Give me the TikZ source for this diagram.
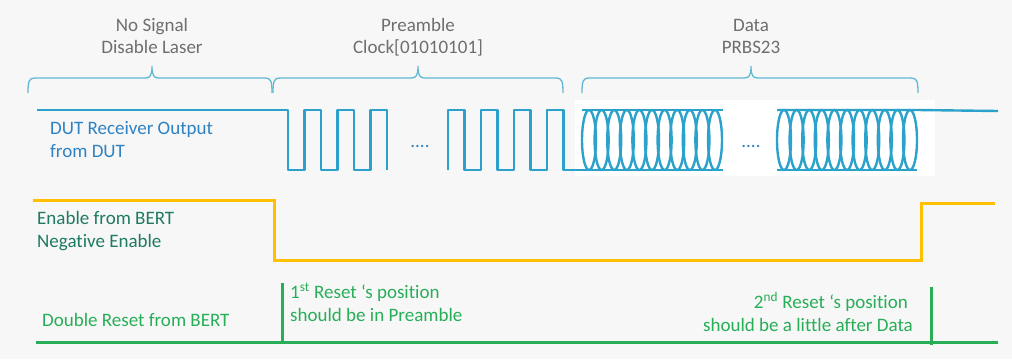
\documentclass[tikz,border=0pt]{standalone}
\usepackage{fontspec}
\setmainfont{Carlito}[Ligatures={NoCommon}]
\usepackage{xcolor}
\usepackage{tikz}
\pgfdeclarelayer{nodelayer}
\pgfdeclarelayer{edgelayer}
\pgfsetlayers{nodelayer,edgelayer,main}
\definecolor{bgcol}{HTML}{F7F7F7}
\definecolor{wavecol}{HTML}{2BA2CB}
\definecolor{bracecol}{HTML}{5FB9D5}
\definecolor{graytext}{HTML}{6E6E6E}
\definecolor{dutblue}{HTML}{2E82C2}
\definecolor{enyellow}{HTML}{FFC000}
\definecolor{entext}{HTML}{1F7A63}
\definecolor{rstgreen}{HTML}{27AE57}
\tikzset{
    none/.style = {inner sep=0pt},
    lbl/.style = {inner sep=0pt, font=\fontsize{19}{22}\selectfont},
    wave/.style = {draw=wavecol, line width=2.4pt, line join=round},
    bracket/.style = {draw=bracecol, line width=1.3pt},
    enable/.style = {draw=enyellow, line width=3pt},
    reset/.style = {draw=rstgreen, line width=3pt}
}

\begin{document}
\begin{tikzpicture}[x=1pt, y=-1pt]
    \useasboundingbox (0,0) rectangle (1012,359);
    \begin{pgfonlayer}{nodelayer}
        % Background and white patch behind the eyes
        \fill[bgcol] (0,0) rectangle (1012,359);
        \fill[white] (575,100) rectangle (935,176);
        % Section labels
        \node [lbl, text=graytext, anchor=base] (20) at (152, 31) {No Signal};
        \node [lbl, text=graytext, anchor=base] (21) at (152, 53) {Disable Laser};
        \node [lbl, text=graytext, anchor=base] (22) at (418, 31) {Preamble};
        \node [lbl, text=graytext, anchor=base] (23) at (418, 53) {Clock[01010101]};
        \node [lbl, text=graytext, anchor=base] (24) at (751, 31) {Data};
        \node [lbl, text=graytext, anchor=base] (25) at (751, 53) {PRBS23};
        % Signal names
        \node [lbl, text=dutblue, anchor=base west] (26) at (50, 134) {DUT Receiver Output};
        \node [lbl, text=dutblue, anchor=base west] (27) at (50, 157) {from DUT};
        \node [lbl, text=dutblue, anchor=base] (28) at (420, 147) {....};
        \node [lbl, text=dutblue, anchor=base] (29) at (751, 147) {....};
        \node [lbl, text=entext, anchor=base west] (30) at (37, 224) {Enable from BERT};
        \node [lbl, text=entext, anchor=base west] (31) at (37, 247) {Negative Enable};
        \node [lbl, text=rstgreen, anchor=base west] (32) at (42, 326) {Double Reset from BERT};
        \node [lbl, text=rstgreen, anchor=base west] (33) at (290, 298) {1\textsuperscript{st} Reset ‘s position};
        \node [lbl, text=rstgreen, anchor=base west] (34) at (290, 321) {should be in Preamble};
        \node [lbl, text=rstgreen, anchor=base east] (35) at (908, 308) {2\textsuperscript{nd} Reset ‘s position};
        \node [lbl, text=rstgreen, anchor=base east] (36) at (913, 331) {should be a little after Data};
        % Waveform corners
        \node [style=none] (0) at (37, 110) {};
        \node [style=none] (1) at (288, 110) {};
        \node [style=none] (2) at (448, 170) {};
        \node [style=none] (3) at (723, 170) {};
        \node [style=none] (4) at (582, 110) {};
        \node [style=none] (5) at (723, 110) {};
        \node [style=none] (6) at (777, 170) {};
        \node [style=none] (7) at (917, 170) {};
        \node [style=none] (8) at (777, 110) {};
        \node [style=none] (9) at (917, 110) {};
        \node [style=none] (10) at (998, 111) {};
        \node [style=none] (11) at (33, 200) {};
        \node [style=none] (12) at (274, 200) {};
        \node [style=none] (13) at (274, 260) {};
        \node [style=none] (14) at (921, 260) {};
        \node [style=none] (15) at (921, 203) {};
        \node [style=none] (16) at (995, 203) {};
        \node [style=none] (17) at (36, 342) {};
        \node [style=none] (18) at (998, 342) {};
        \node [style=none] (37) at (282, 283) {};
        \node [style=none] (38) at (282, 343) {};
        \node [style=none] (39) at (931, 287) {};
        \node [style=none] (40) at (931, 345) {};
    \end{pgfonlayer}
    \begin{pgfonlayer}{edgelayer}
        % Braces over the three sections
        \foreach \a/\m/\b in {28/152/272, 273/418/563, 582/751/918}
            \draw[bracket] (\a,93) .. controls (\a,81) and (\a+1,78) .. (\a+7,78) -- (\m-7,78)
                .. controls (\m-2,78) and (\m,76) .. (\m,66)
                .. controls (\m,76) and (\m+2,78) .. (\m+7,78) -- (\b-7,78)
                .. controls (\b-1,78) and (\b,81) .. (\b,93);
        % No signal, then first clock burst
        \draw[wave] (0.center) to (1.center) -- (288,170)
            \foreach \x in {304.5,337.5,370.5} { -- (\x,170) -- (\x,110) -- (\x+16.5,110) -- (\x+16.5,170) };
        % Second clock burst running into the data
        \draw[wave] (2.center) -- (448,110) -- (464.5,110) -- (464.5,170)
            \foreach \x in {481,514,547} { -- (\x,170) -- (\x,110) -- (\x+16.5,110) -- (\x+16.5,170) } to (3.center);
        % Eye patterns
        \draw[wave] (4.center) to (5.center);
        \foreach \i in {0,...,10}
            \draw[wave] ({589+12.6*\i},140) ellipse [x radius=7, y radius=30];
        \draw[wave] (6.center) to (7.center);
        \draw[wave] (8.center) to (9.center) to (10.center);
        \foreach \i in {0,...,10}
            \draw[wave] ({784+12.6*\i},140) ellipse [x radius=7, y radius=30];
        % Enable from BERT
        \draw[enable] (11.center) to (12.center) to (13.center) to (14.center) to (15.center) to (16.center);
        % Double reset
        \draw[reset] (17.center) to (18.center);
        \draw[reset] (37.center) to (38.center);
        \draw[reset] (39.center) to (40.center);
    \end{pgfonlayer}
\end{tikzpicture}
\end{document}
